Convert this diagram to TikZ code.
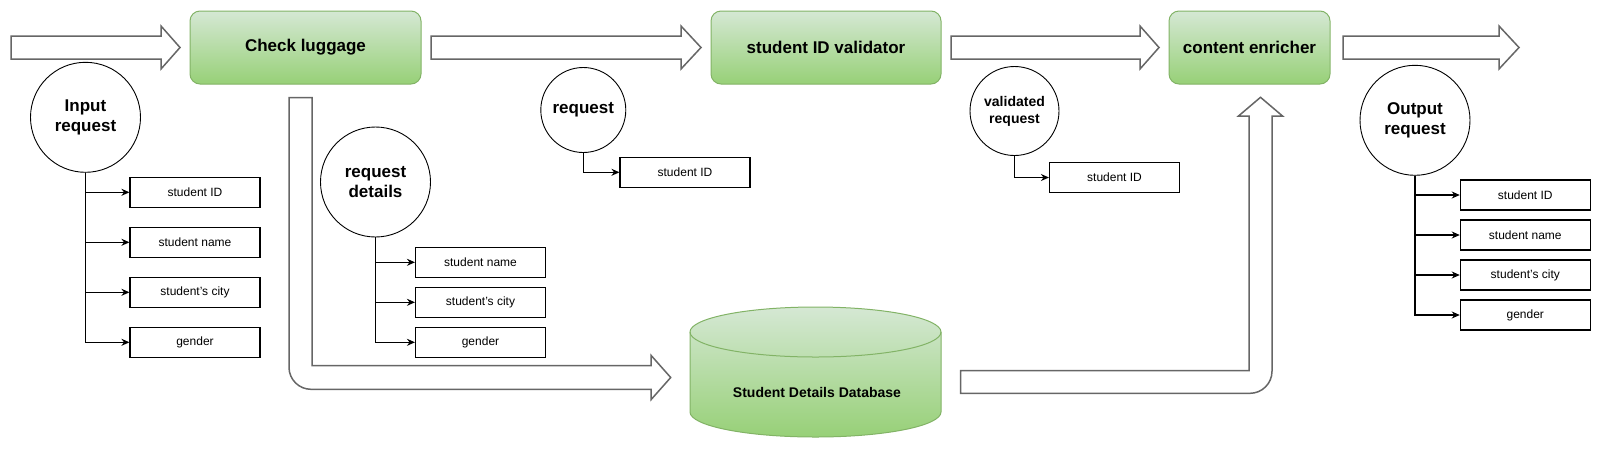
\documentclass[tikz,border=0pt]{standalone}
\usepackage{fontspec}
\setmainfont{Liberation Sans}
\usetikzlibrary{arrows.meta}
\definecolor{gtop}{HTML}{D5E8D4}
\definecolor{gbot}{HTML}{97D077}
\definecolor{gborder}{HTML}{82B366}
\definecolor{arrgray}{HTML}{666666}
\begin{document}
\begin{tikzpicture}[x=1pt,y=-1pt,
 greenbox/.style={draw=gborder, line width=1pt, rounded corners=10pt, top color=gtop, bottom color=gbot, font=\bfseries\fontsize{17}{20}\selectfont, align=center, inner sep=0pt, minimum height=73pt},
 circ/.style={circle, draw=black, line width=0.9pt, fill=white, align=center, inner sep=0pt, font=\bfseries\fontsize{17}{20}\selectfont},
 field/.style={draw=black, line width=1.1pt, fill=white, minimum width=130pt, minimum height=30pt, inner sep=0pt, font=\fontsize{12}{14}\selectfont},
 link/.style={line width=1.1pt, -{Stealth[length=8pt,width=7pt]}},
 blockarrow/.style={draw=arrgray, line width=1.5pt, fill=white, line join=miter},
]
\useasboundingbox (0,0) rectangle (1601,448);

% straight block arrows
\draw[blockarrow] (11,36) -- (161,36) -- (161,26) -- (180,47.5) -- (161,69) -- (161,59) -- (11,59) -- cycle;
\draw[blockarrow] (431,36) -- (681,36) -- (681,26) -- (701,47.5) -- (681,69) -- (681,59) -- (431,59) -- cycle;
\draw[blockarrow] (951,36) -- (1140,36) -- (1140,26) -- (1159,47.5) -- (1140,69) -- (1140,59) -- (951,59) -- cycle;
\draw[blockarrow] (1343,36) -- (1499,36) -- (1499,26) -- (1519,47.5) -- (1499,69) -- (1499,59) -- (1343,59) -- cycle;

% bent block arrows
\draw[blockarrow] (289,97.7) -- (312,97.7) -- (312,365.7) -- (651,365.7) -- (651,355.3) -- (670.7,377.5) -- (651,399.7) -- (651,389.3) -- (311,389.3) .. controls (298.9,389.3) and (289,379.4) .. (289,367.3) -- cycle;
\draw[blockarrow] (960.7,370.7) -- (1249,370.7) -- (1249,116) -- (1238.5,116) -- (1260.5,97.3) -- (1282.5,116) -- (1272,116) -- (1272,371.3) .. controls (1272,383.4) and (1262.1,393.3) .. (1250,393.3) -- (960.7,393.3) -- cycle;

% process boxes
\node[greenbox, minimum width=231pt] (cl) at (305.5,47.5) {Check luggage};
\node[greenbox, minimum width=230pt] (val) at (826,47.5) {student ID validator};
\node[greenbox, minimum width=161pt] (enr) at (1249.5,47.5) {content enricher};

% database
\path[top color=gtop, bottom color=gbot, draw=gborder, line width=1pt]
  (690,332) arc[start angle=180,end angle=0,x radius=125.5pt,y radius=25pt]
  -- (941,412) arc[start angle=0,end angle=-180,x radius=125.5pt,y radius=25pt] -- cycle;
\draw[gborder, line width=1pt] (690,332) arc[start angle=180,end angle=360,x radius=125.5pt,y radius=25pt];
\node[font=\bfseries\fontsize{14}{16}\selectfont] (db) at (817,392) {Student Details Database};

% input request
\node[circ, minimum size=110pt] (inc) at (85.5,117.3) {Input\\request};
\node[field] (i1) at (195,192.3) {student ID};
\node[field] (i2) at (195,242.3) {student name};
\node[field] (i3) at (195,292.3) {student's city};
\node[field] (i4) at (195,342.3) {gender};
\foreach \b in {i1,i2,i3,i4} \draw[link] (inc.south) |- (\b.west);

% request details
\node[circ, minimum size=110pt] (rdc) at (375.5,182) {request\\details};
\node[field] (d1) at (480.5,262.3) {student name};
\node[field] (d2) at (480.5,302.3) {student's city};
\node[field] (d3) at (480.5,342.3) {gender};
\foreach \b in {d1,d2,d3} \draw[link] (rdc.south) |- (\b.west);

% request
\node[circ, minimum size=85pt] (rqc) at (583.3,110) {request};
\node[field] (r1) at (685,172.3) {student ID};
\draw[link] (rqc.south) |- (r1.west);

% validated request
\node[circ, minimum size=89pt, font=\bfseries\fontsize{14}{17}\selectfont] (vrc) at (1014.5,111) {validated\\request};
\node[field] (v1) at (1114.5,177.5) {student ID};
\draw[link] (vrc.south) |- (v1.west);

% output request
\node[circ, minimum size=110pt] (orc) at (1415,120.3) {Output\\request};
\node[field] (o1) at (1525.3,195) {student ID};
\node[field] (o2) at (1525.3,235) {student name};
\node[field] (o3) at (1525.3,275) {student's city};
\node[field] (o4) at (1525.3,315) {gender};
\foreach \b in {o1,o2,o3,o4} \draw[link] (orc.south) |- (\b.west);
\end{tikzpicture}
\end{document}
